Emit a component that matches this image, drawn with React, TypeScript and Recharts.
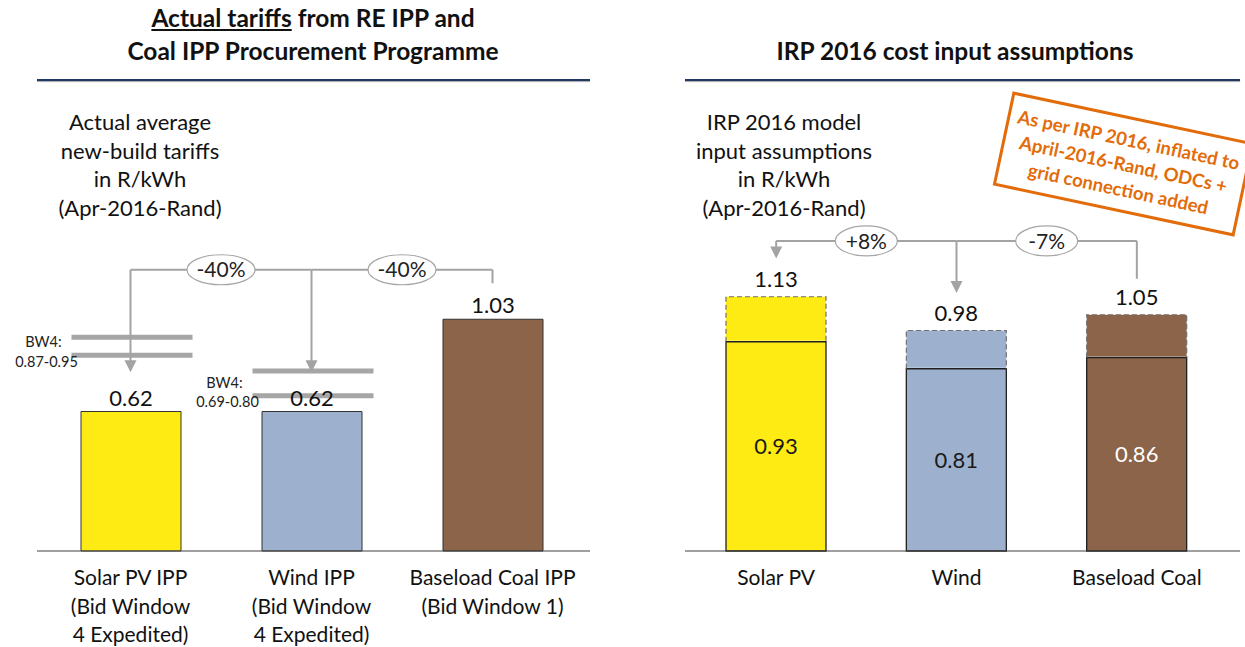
import React from "react";
import { BarChart, Bar, XAxis, YAxis, Cell, LabelList, ReferenceLine } from "recharts";

// left panel: actual tariffs (R/kWh, Apr-2016-Rand)
const leftCategories = ["Solar PV IPP", "Wind IPP", "Baseload Coal IPP"];
const leftTickLines = [
  ["Solar PV IPP", "(Bid Window", "4 Expedited)"],
  ["Wind IPP", "(Bid Window", "4 Expedited)"],
  ["Baseload Coal IPP", "(Bid Window 1)"],
];
const leftTariffs = [0.62, 0.62, 1.03];
const bw4Low = [0.87, 0.69];
const bw4High = [0.95, 0.8];
const leftChanges = ["-40%", "-40%"];

// right panel: IRP 2016 input assumptions
const rightCategories = ["Solar PV", "Wind", "Baseload Coal"];
const rightBase = [0.93, 0.81, 0.86];
const rightTotal = [1.13, 0.98, 1.05];
const rightChanges = ["+8%", "-7%"];

const barColors = ["#FFEB14", "#9DB1CE", "#8B644A"];
const innerLabelColors = ["#1a1a1a", "#1a1a1a", "#ffffff"];

const GREY = "#a3a3a3";
const FONT = "Lato, 'Open Sans', sans-serif";
const TEXT = 22;

const leftData = leftCategories.map((name, i) => ({ name, tariff: leftTariffs[i] }));
const rightData = rightCategories.map((name, i) => ({
  name,
  base: rightBase[i],
  inc: +(rightTotal[i] - rightBase[i]).toFixed(2),
  total: rightTotal[i],
}));

const Arrow = (p: any) => (
  <g>
    <line x1={p.x1} y1={p.y1} x2={p.x2} y2={p.y2 - 9} stroke={GREY} strokeWidth={2} />
    <polygon points={`${p.x2 - 6},${p.y2 - 12} ${p.x2 + 6},${p.y2 - 12} ${p.x2},${p.y2}`} fill={GREY} />
  </g>
);

const Stem = (p: any) => (
  <line x1={p.x1} y1={p.y1} x2={p.x2} y2={p.y2} stroke={GREY} strokeWidth={2} />
);

const changeLink = (text: string, rx: number, ry: number) => (p: any) => {
  const cx = (p.x1 + p.x2) / 2;
  return (
    <g>
      <line x1={p.x1} y1={p.y1} x2={p.x2} y2={p.y2} stroke={GREY} strokeWidth={2} />
      <ellipse cx={cx} cy={p.y1} rx={rx} ry={ry} fill="#fff" stroke="#a6a6a6" strokeWidth={1.2} />
      <text x={cx} y={p.y1} dy="0.36em" textAnchor="middle" fontSize={21} fill="#222">
        {text}
      </text>
    </g>
  );
};

const rangeLine = (label?: string) => (p: any) => (
  <g>
    <line x1={p.x1 - 59} x2={p.x1 + 62} y1={p.y1} y2={p.y1} stroke="#a6a6a6" strokeWidth={5} />
    {label && (
      <text x={p.x1 - 84} y={p.y1} textAnchor="middle" fontSize={14.5} fill="#222">
        <tspan x={p.x1 - 87} dy="-0.55em">BW4:</tspan>
        <tspan x={p.x1 - 84} dy="1.35em">{label}</tspan>
      </text>
    )}
  </g>
);

const makeTick = (lines: string[][], cats: string[]) => (p: any) => {
  const idx = cats.indexOf(p.payload.value);
  const rows = lines[idx] || [p.payload.value];
  return (
    <text x={p.x} y={p.y} textAnchor="middle" fontSize={21} fill="#111">
      {rows.map((r, i) => (
        <tspan key={i} x={p.x} dy={i === 0 ? 34 : 28.6}>
          {r}
        </tspan>
      ))}
    </text>
  );
};

const TopLabel = (offset: number) => (p: any) => (
  <text x={p.x + p.width / 2} y={p.y - offset} textAnchor="middle" fontSize={TEXT} fill="#111">
    {Number(p.value).toFixed(2)}
  </text>
);

const InnerLabel = (p: any) => (
  <text
    x={p.x + p.width / 2}
    y={p.y + p.height / 2}
    dy="0.36em"
    textAnchor="middle"
    fontSize={TEXT}
    fill={innerLabelColors[p.index]}
  >
    {Number(p.value).toFixed(2)}
  </text>
);

// added-cost segment: fill plus a dashed outline on top and sides only
const DashedTop = (p: any) => {
  const { x, y, width, height, fill } = p;
  return (
    <g>
      <rect x={x} y={y} width={width} height={Math.max(0, height - 1)} fill={fill} />
      <path
        d={`M${x},${y + height} V${y} H${x + width} V${y + height}`}
        fill="none"
        stroke="#6f6f6f"
        strokeWidth={1.2}
        strokeDasharray="5 3"
      />
    </g>
  );
};

const divider = (left: number, width: number): React.CSSProperties => ({
  position: "absolute",
  left,
  top: 79,
  width,
  height: 2,
  background: "#1F3864",
  boxShadow: "0 1px 1px rgba(0,0,0,0.35)",
});

const noteStyle = (left: number): React.CSSProperties => ({
  position: "absolute",
  left,
  top: 108,
  width: 280,
  textAlign: "center",
  fontSize: TEXT,
  lineHeight: "28.7px",
  color: "#111",
});

const titleStyle: React.CSSProperties = {
  position: "absolute",
  width: 600,
  textAlign: "center",
  fontSize: 24.5,
  fontWeight: 700,
  lineHeight: "33px",
  color: "#111",
};

export default function App() {
  return (
    <div
      style={{
        position: "absolute",
        left: 0,
        top: 0,
        width: 1245,
        height: 647,
        overflow: "hidden",
        background: "#fff",
        fontFamily: FONT,
      }}
    >
      <div style={{ ...titleStyle, left: 13, top: 1 }}>
        <span style={{ textDecoration: "underline" }}>Actual tariffs</span> from RE IPP and
        <br />
        Coal IPP Procurement Programme
      </div>
      <div style={{ ...titleStyle, left: 655, top: 34 }}>IRP 2016 cost input assumptions</div>
      <div style={divider(37, 553)} />
      <div style={divider(685, 555)} />

      <div style={noteStyle(0)}>
        Actual average
        <br />
        new-build tariffs
        <br />
        in R/kWh
        <br />
        (Apr-2016-Rand)
      </div>
      <div style={noteStyle(644)}>
        IRP 2016 model
        <br />
        input assumptions
        <br />
        in R/kWh
        <br />
        (Apr-2016-Rand)
      </div>

      <div style={{ position: "absolute", left: 0, top: 0 }}>
        <BarChart width={620} height={647} data={leftData} margin={{ top: 101, right: 30, bottom: 0, left: 37 }} barSize={100}>
          <YAxis hide domain={[0, 2]} />
          <XAxis
            dataKey="name"
            height={96}
            padding={{ left: 3, right: 7 }}
            tickLine={false}
            tickSize={0}
            tickMargin={0}
            axisLine={{ stroke: "#404040", strokeWidth: 1 }}
            tick={makeTick(leftTickLines, leftCategories)}
            interval={0}
          />
          <Bar dataKey="tariff" stroke="#333" strokeWidth={1} isAnimationActive={false}>
            {leftData.map((d, i) => (
              <Cell key={d.name} fill={barColors[i]} />
            ))}
            <LabelList dataKey="tariff" content={TopLabel(6)} />
          </Bar>
          {bw4High.map((v, i) => (
            <ReferenceLine
              key={"h" + i}
              segment={[{ x: leftCategories[i], y: v }, { x: leftCategories[i], y: v }]}
              shape={rangeLine()}
            />
          ))}
          {bw4Low.map((v, i) => (
            <ReferenceLine
              key={"l" + i}
              segment={[{ x: leftCategories[i], y: v }, { x: leftCategories[i], y: v }]}
              shape={rangeLine(`${bw4Low[i].toFixed(2)}-${bw4High[i].toFixed(2)}`)}
            />
          ))}
          <ReferenceLine segment={[{ x: leftCategories[0], y: 1.25 }, { x: leftCategories[0], y: 0.795 }]} shape={Arrow} />
          <ReferenceLine segment={[{ x: leftCategories[1], y: 1.25 }, { x: leftCategories[1], y: 0.795 }]} shape={Arrow} />
          <ReferenceLine segment={[{ x: leftCategories[2], y: 1.25 }, { x: leftCategories[2], y: 1.19 }]} shape={Stem} />
          <ReferenceLine
            segment={[{ x: leftCategories[0], y: 1.25 }, { x: leftCategories[1], y: 1.25 }]}
            shape={changeLink(leftChanges[0], 34, 15)}
          />
          <ReferenceLine
            segment={[{ x: leftCategories[1], y: 1.25 }, { x: leftCategories[2], y: 1.25 }]}
            shape={changeLink(leftChanges[1], 34, 15)}
          />
        </BarChart>
      </div>

      <div style={{ position: "absolute", left: 620, top: 0 }}>
        <BarChart width={625} height={647} data={rightData} margin={{ top: 101, right: 5, bottom: 0, left: 65 }} barSize={100}>
          <YAxis hide domain={[0, 2]} />
          <XAxis
            dataKey="name"
            height={96}
            padding={{ left: 1, right: 13 }}
            tickLine={false}
            tickSize={0}
            tickMargin={0}
            axisLine={{ stroke: "#404040", strokeWidth: 1 }}
            tick={makeTick(rightCategories.map((c) => [c]), rightCategories)}
            interval={0}
          />
          <Bar dataKey="base" stackId="a" stroke="#1f1f1f" strokeWidth={1.3} isAnimationActive={false}>
            {rightData.map((d, i) => (
              <Cell key={d.name} fill={barColors[i]} />
            ))}
            <LabelList dataKey="base" content={InnerLabel} />
          </Bar>
          <Bar dataKey="inc" stackId="a" shape={DashedTop} isAnimationActive={false}>
            {rightData.map((d, i) => (
              <Cell key={d.name} fill={barColors[i]} />
            ))}
            <LabelList dataKey="total" content={TopLabel(10)} />
          </Bar>
          <ReferenceLine segment={[{ x: rightCategories[0], y: 1.378 }, { x: rightCategories[0], y: 1.3 }]} shape={Arrow} />
          <ReferenceLine segment={[{ x: rightCategories[1], y: 1.378 }, { x: rightCategories[1], y: 1.147 }]} shape={Arrow} />
          <ReferenceLine segment={[{ x: rightCategories[2], y: 1.378 }, { x: rightCategories[2], y: 1.21 }]} shape={Stem} />
          <ReferenceLine
            segment={[{ x: rightCategories[0], y: 1.378 }, { x: rightCategories[1], y: 1.378 }]}
            shape={changeLink(rightChanges[0], 31, 15)}
          />
          <ReferenceLine
            segment={[{ x: rightCategories[1], y: 1.378 }, { x: rightCategories[2], y: 1.378 }]}
            shape={changeLink(rightChanges[1], 31, 15)}
          />
        </BarChart>
      </div>

      <div
        style={{
          position: "absolute",
          left: 1000,
          top: 116,
          width: 247,
          height: 96,
          boxSizing: "border-box",
          border: "3px solid #E36C0A",
          transform: "rotate(12deg)",
          display: "flex",
          alignItems: "center",
          justifyContent: "center",
          textAlign: "center",
          color: "#E36C0A",
          fontWeight: 700,
          fontSize: 18.5,
          lineHeight: "25px",
          whiteSpace: "nowrap",
        }}
      >
        As per IRP 2016, inflated to
        <br />
        April-2016-Rand, ODCs +
        <br />
        grid connection added
      </div>
    </div>
  );
}
